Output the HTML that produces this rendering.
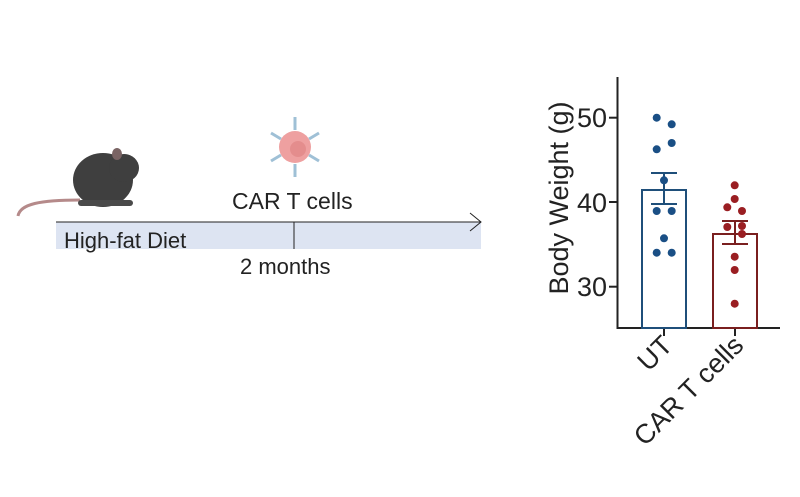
<!DOCTYPE html>
<html><head><style>
body{margin:0;background:#fff;}
svg{display:block;font-family:"Liberation Sans",sans-serif;}
</style></head><body>
<svg width="800" height="497" viewBox="0 0 800 497">
<!-- timeline -->
<rect x="56" y="222" width="425" height="27" fill="#dde4f2"/>
<line x1="56" y1="222" x2="481" y2="222" stroke="#222" stroke-width="1"/>
<polyline points="470,213 481,222 470,231" fill="none" stroke="#222" stroke-width="1"/>
<line x1="294" y1="222" x2="294" y2="249" stroke="#222" stroke-width="1"/>
<text x="64" y="248" font-size="22" fill="#222">High-fat Diet</text>
<text x="232" y="209" font-size="23" fill="#222">CAR T cells</text>
<text x="240" y="274" font-size="22" fill="#222">2 months</text>
<!-- CAR T cell -->
<g stroke="#9fc0d6" stroke-width="3">
<line x1="295" y1="117" x2="295" y2="130"/><line x1="295" y1="164" x2="295" y2="177"/>
<line x1="271" y1="133" x2="281" y2="139"/><line x1="309" y1="139" x2="319" y2="133"/>
<line x1="271" y1="161" x2="281" y2="155"/><line x1="309" y1="155" x2="319" y2="161"/>
</g>
<circle cx="295" cy="147" r="16" fill="#eea0a0"/>
<circle cx="298" cy="149" r="8" fill="#e48d8d"/>
<!-- mouse -->
<path d="M18,216 C20,204 40,200 80,200" fill="none" stroke="#b58a8a" stroke-width="3"/>
<ellipse cx="103" cy="180" rx="30" ry="27" fill="#3f3f3f"/>
<ellipse cx="124" cy="168" rx="15" ry="14" fill="#3f3f3f"/>
<ellipse cx="117" cy="154" rx="5" ry="6" fill="#7a6464"/>
<rect x="78" y="200" width="55" height="6" rx="3" fill="#4a4a4a"/>
<!-- chart axes -->
<g stroke="#222" stroke-width="2" fill="none">
<line x1="617.5" y1="77" x2="617.5" y2="329"/>
<line x1="617" y1="328" x2="780" y2="328"/>
<line x1="609" y1="117.7" x2="617" y2="117.7"/>
<line x1="609" y1="202" x2="617" y2="202"/>
<line x1="609" y1="286.7" x2="617" y2="286.7"/>
<line x1="664" y1="328" x2="664" y2="336"/>
<line x1="735" y1="328" x2="735" y2="336"/>
</g>
<g font-size="27" fill="#222" text-anchor="end">
<text x="607" y="127">50</text><text x="607" y="212">40</text><text x="607" y="296">30</text>
</g>
<text transform="translate(568,198) rotate(-90)" text-anchor="middle" font-size="27" fill="#222">Body Weight (g)</text>
<!-- bars -->
<rect x="642" y="190" width="44" height="138" fill="none" stroke="#1f4f7a" stroke-width="2"/>
<rect x="713" y="234" width="44" height="94" fill="none" stroke="#7a1f1f" stroke-width="2"/>
<g stroke="#1f4f7a" stroke-width="2"><line x1="664" y1="173" x2="664" y2="204"/><line x1="651" y1="173" x2="677" y2="173"/><line x1="651" y1="204" x2="677" y2="204"/></g>
<g stroke="#7a1f1f" stroke-width="2"><line x1="735" y1="221" x2="735" y2="244"/><line x1="722" y1="221" x2="748" y2="221"/><line x1="722" y1="244" x2="748" y2="244"/></g>
<g fill="#1a4f85">
<circle cx="656.7" cy="117.7" r="4"/><circle cx="671.7" cy="124.3" r="4"/><circle cx="656.7" cy="149.3" r="4"/><circle cx="671.7" cy="143" r="4"/><circle cx="664" cy="180.3" r="4"/><circle cx="656.7" cy="211" r="4"/><circle cx="671.7" cy="211" r="4"/><circle cx="664" cy="238.3" r="4"/><circle cx="656.7" cy="252.7" r="4"/><circle cx="671.7" cy="252.7" r="4"/>
</g>
<g fill="#9a1e22">
<circle cx="734.7" cy="185.3" r="4"/><circle cx="734.7" cy="199" r="4"/><circle cx="727.3" cy="207.3" r="4"/><circle cx="742" cy="211" r="4"/><circle cx="727.3" cy="227" r="4"/><circle cx="742" cy="226" r="4"/><circle cx="742" cy="234" r="4"/><circle cx="734.7" cy="256.7" r="4"/><circle cx="734.7" cy="270" r="4"/><circle cx="734.7" cy="303.7" r="4"/>
</g>
<g font-size="27" fill="#222" text-anchor="end">
<text transform="translate(674,347) rotate(-45)">UT</text>
<text transform="translate(745,347) rotate(-45)">CAR T cells</text>
</g>
</svg>
</body></html>
